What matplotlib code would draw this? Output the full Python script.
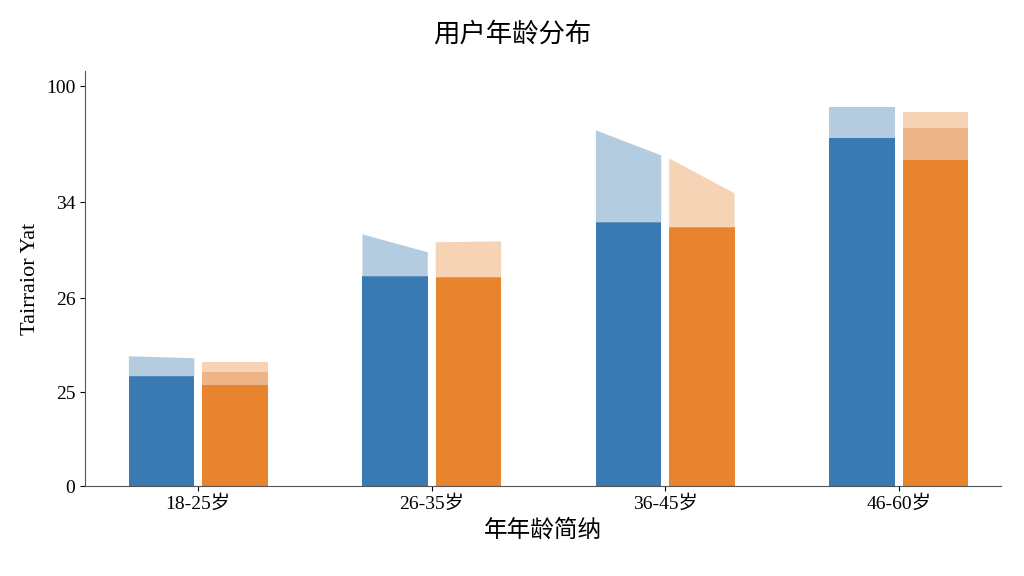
import matplotlib
matplotlib.use("Agg")
import matplotlib.pyplot as plt

# data (in axis units)
groups = ["18-25岁", "26-35岁", "36-45岁", "46-60岁"]
blue_vals = [110, 210, 264, 348]
blue_cap_left = [130, 252, 356, 379]
blue_cap_right = [128, 234, 331, 379]
orange_vals = [101, 209, 259, 326]
orange_mid = [114, 209, 259, 358]
orange_cap_left = [124, 244, 328, 374]
orange_cap_right = [124, 245, 293, 374]
ytick_pos = [0, 94, 188, 284, 400]
ytick_labels = ["0", "25", "26", "34", "100"]

BLUE = "#3a7ab2"
ORANGE = "#e8832e"
LBLUE = "#b4cce0"
LORANGE = "#f5d3b4"
MORANGE = "#edb487"

plt.rcParams["font.family"] = ["Liberation Serif", "Noto Sans CJK SC"]

fig = plt.figure(figsize=(10.24, 5.76), dpi=100)
ax = fig.add_axes([0.083, 0.156, 0.895, 0.72])

w = 0.28
off = 0.157
for i in range(len(groups)):
    bx = i - off
    ox = i + off
    ax.bar(bx, blue_vals[i], w, color=BLUE)
    ax.fill([bx - w / 2, bx + w / 2, bx + w / 2, bx - w / 2],
            [blue_vals[i], blue_vals[i], blue_cap_right[i], blue_cap_left[i]],
            color=LBLUE, lw=0)
    ax.bar(ox, orange_vals[i], w, color=ORANGE)
    ax.fill([ox - w / 2, ox + w / 2, ox + w / 2, ox - w / 2],
            [orange_mid[i], orange_mid[i], orange_cap_right[i], orange_cap_left[i]],
            color=LORANGE, lw=0)
    if orange_mid[i] > orange_vals[i]:
        ax.bar(ox, orange_mid[i] - orange_vals[i], w, bottom=orange_vals[i],
               color=MORANGE)

ax.set_xlim(-0.485, 3.44)
ax.set_ylim(0, 415)
ax.set_xticks(range(len(groups)))
ax.set_xticklabels(groups, fontsize=14)
ax.set_yticks(ytick_pos)
ax.set_yticklabels(ytick_labels, fontsize=14)
for s in ["top", "right"]:
    ax.spines[s].set_visible(False)
for s in ["left", "bottom"]:
    ax.spines[s].set_color("#555555")

ax.set_ylabel("Tairraior Yat", fontsize=16)
ax.set_xlabel("年年龄简纳", fontsize=17,
              family=["Noto Sans CJK SC"])
fig.suptitle("用户年龄分布", fontsize=19, y=0.965,
             family=["Noto Sans CJK SC"])

fig.savefig("out.png", dpi=100)
